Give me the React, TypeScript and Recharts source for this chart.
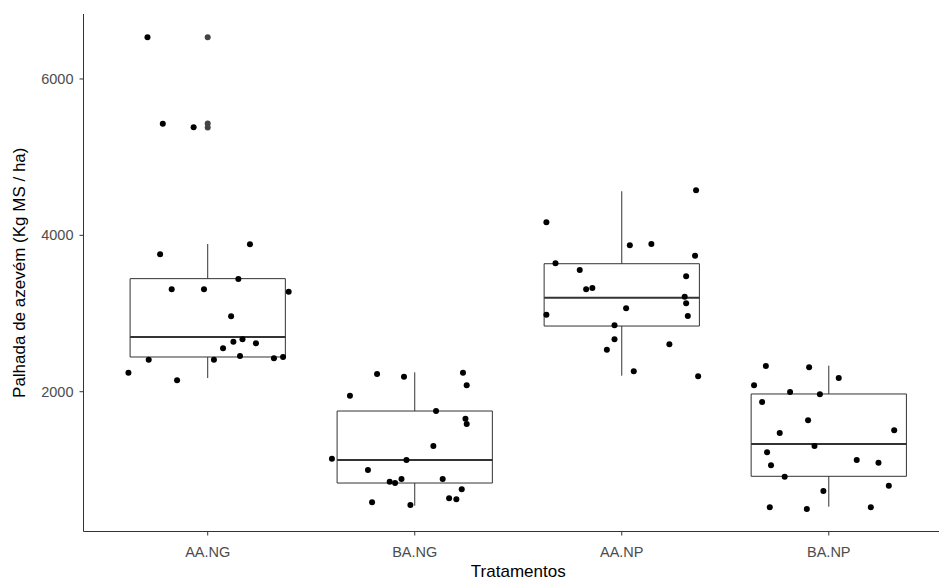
import React from 'react';
import {
  ComposedChart,
  Scatter,
  XAxis,
  YAxis,
  ReferenceArea,
  ReferenceLine,
} from 'recharts';

const categories = ['AA.NG', 'BA.NG', 'AA.NP', 'BA.NP'];
const yTicks = [2000, 4000, 6000];

// box statistics per treatment
const whiskerLow = [2175, 542, 2205, 529];
const boxQ1 = [2444, 832, 2840, 918];
const boxMedian = [2700, 1126, 3202, 1331];
const boxQ3 = [3446, 1753, 3637, 1971];
const whiskerHigh = [3889, 2248, 4564, 2333];

// boxplot outliers (only AA.NG has them)
const aaNgOutliers = [6534, 5430, 5380];

// jittered observations: values and horizontal jitter (fraction of a category)
const aaNgValues = [6534, 5428, 5382, 3758, 3886, 3442, 3310, 3310, 3279, 2965, 2640, 2670, 2619, 2555, 2457, 2409, 2409, 2427, 2444, 2243, 2146];
const aaNgJitter = [-0.291, -0.217, -0.068, -0.23, 0.204, 0.148, -0.174, -0.018, 0.391, 0.113, 0.124, 0.168, 0.233, 0.074, 0.156, -0.285, 0.03, 0.32, 0.364, -0.383, -0.148];

const baNgValues = [2226, 2192, 2243, 2082, 1949, 1753, 1655, 1587, 1305, 1143, 1126, 998, 883, 883, 849, 832, 751, 636, 623, 585, 551];
const baNgJitter = [-0.182, -0.052, 0.233, 0.251, -0.313, 0.103, 0.245, 0.251, 0.09, -0.4, -0.04, -0.226, -0.064, 0.135, -0.121, -0.095, 0.227, 0.166, 0.201, -0.206, -0.021];

const aaNpValues = [4577, 4167, 3873, 3890, 3740, 3643, 3557, 3476, 3310, 3327, 3215, 3131, 3067, 2985, 2968, 2849, 2670, 2537, 2606, 2261, 2197];
const aaNpJitter = [0.359, -0.364, 0.039, 0.143, 0.354, -0.32, -0.203, 0.311, -0.172, -0.142, 0.304, 0.311, 0.021, -0.364, 0.319, -0.035, -0.035, -0.072, 0.23, 0.058, 0.369];

const baNpValues = [2329, 2312, 2175, 2082, 1996, 1967, 1868, 1634, 1506, 1472, 1305, 1225, 1126, 1092, 1058, 913, 797, 730, 521, 499, 521];
const baNpJitter = [-0.304, -0.095, 0.048, -0.361, -0.187, -0.043, -0.322, -0.1, 0.316, -0.237, -0.069, -0.298, 0.135, 0.24, -0.279, -0.213, 0.29, -0.026, -0.285, -0.106, 0.203];

const groupValues = [aaNgValues, baNgValues, aaNpValues, baNpValues];
const groupJitter = [aaNgJitter, baNgJitter, aaNpJitter, baNpJitter];

const points = groupValues.flatMap((vals, g) =>
  vals.map((v, i) => ({ x: g + 1 + groupJitter[g][i], y: v }))
);
const outlierPoints = aaNgOutliers.map((v) => ({ x: 1, y: v }));

const font = '"Liberation Sans", Arial, sans-serif';
const lineColor = '#333333';
const halfBox = 0.375;

function Dot(props: any) {
  return <circle cx={props.cx} cy={props.cy} r={3} fill="#000" />;
}

function OutlierDot(props: any) {
  return <circle cx={props.cx} cy={props.cy} r={3} fill="#444444" />;
}

function YTitle(props: any) {
  const vb = props.viewBox;
  const cx = vb.x + 19;
  const cy = vb.y + vb.height / 2;
  return (
    <text x={cx} y={cy} transform={`rotate(-90, ${cx}, ${cy})`} textAnchor="middle" dominantBaseline="central" fontSize={17} fontFamily={font} fill="#000">
      Palhada de azevém (Kg MS / ha)
    </text>
  );
}

function XTitle(props: any) {
  const vb = props.viewBox;
  return (
    <text x={vb.x + vb.width / 2} y={vb.y + 40} textAnchor="middle" dominantBaseline="central" fontSize={17} fontFamily={font} fill="#000">
      Tratamentos
    </text>
  );
}

export default function App() {
  return (
    <div style={{ position: 'absolute', left: 0, top: 0, width: 939, height: 581, overflow: 'hidden', background: '#fff' }}>
      <ComposedChart width={960} height={581} margin={{ top: 14, right: 7, bottom: 0, left: 0 }}>
        <XAxis
          type="number"
          dataKey="x"
          domain={[0.4, 4.6]}
          ticks={[1, 2, 3, 4]}
          tickFormatter={(v: number) => categories[v - 1]}
          allowDataOverflow
          height={49.5}
          stroke={lineColor}
          tickSize={4}
          tickMargin={11}
          tick={{ fill: '#4d4d4d', fontSize: 14.5, fontFamily: font }}
          label={<XTitle />}
        />
        <YAxis
          type="number"
          dataKey="y"
          domain={[212, 6831]}
          ticks={yTicks}
          allowDataOverflow
          width={83.5}
          stroke={lineColor}
          tickSize={4}
          tickMargin={6}
          tick={{ fill: '#4d4d4d', fontSize: 14.5, fontFamily: font }}
          label={<YTitle />}
        />
        {categories.map((c, i) => (
          <ReferenceLine
            key={`wl-${c}`}
            segment={[{ x: i + 1, y: whiskerLow[i] }, { x: i + 1, y: boxQ1[i] }]}
            stroke={lineColor}
            strokeWidth={1}
          />
        ))}
        {categories.map((c, i) => (
          <ReferenceLine
            key={`wh-${c}`}
            segment={[{ x: i + 1, y: boxQ3[i] }, { x: i + 1, y: whiskerHigh[i] }]}
            stroke={lineColor}
            strokeWidth={1}
          />
        ))}
        {categories.map((c, i) => (
          <ReferenceArea
            key={`box-${c}`}
            x1={i + 1 - halfBox}
            x2={i + 1 + halfBox}
            y1={boxQ1[i]}
            y2={boxQ3[i]}
            fill="none"
            stroke={lineColor}
            strokeWidth={1}
          />
        ))}
        {categories.map((c, i) => (
          <ReferenceLine
            key={`med-${c}`}
            segment={[{ x: i + 1 - halfBox, y: boxMedian[i] }, { x: i + 1 + halfBox, y: boxMedian[i] }]}
            stroke={lineColor}
            strokeWidth={2}
          />
        ))}
        <Scatter data={outlierPoints} dataKey="y" shape={<OutlierDot />} isAnimationActive={false} />
        <Scatter data={points} dataKey="y" shape={<Dot />} isAnimationActive={false} />
      </ComposedChart>
    </div>
  );
}
